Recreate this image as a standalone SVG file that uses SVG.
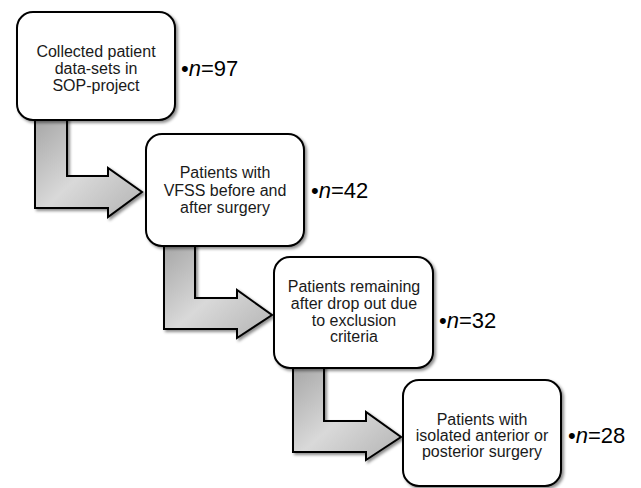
<svg xmlns="http://www.w3.org/2000/svg" width="641" height="488" viewBox="0 0 641 488">
<defs>
<linearGradient id="ag" x1="0" y1="0" x2="1" y2="1">
<stop offset="0" stop-color="#a6a6a6"/>
<stop offset="0.5" stop-color="#d9d9d9"/>
<stop offset="1" stop-color="#b3b3b3"/>
</linearGradient>
<filter id="sh" x="-10%" y="-10%" width="125%" height="125%">
<feDropShadow dx="2" dy="2" stdDeviation="1.8" flood-color="#000" flood-opacity="0.45"/>
</filter>
</defs>
<style>
.box{fill:#fff;stroke:#000;stroke-width:2;filter:url(#sh)}
.arr{fill:url(#ag);stroke:#000;stroke-width:2;stroke-linejoin:miter;filter:url(#sh)}
.t{font-family:"Liberation Sans",Arial,sans-serif;font-size:16px;fill:#1a1a1a;text-anchor:middle}
.n{font-family:"Liberation Sans",Arial,sans-serif;font-size:22px;fill:#000}
</style>
<rect width="641" height="488" fill="#fff"/>
<g id="connectors">
<path class="arr" d="M35,118 L67,118 L67,176 L108,176 L108,168 L142,192 L108,217 L108,208 L35,208 Z"/>
<path class="arr" d="M164,244 L195,244 L195,298 L237,298 L237,290 L272,315 L237,338 L237,329 L164,329 Z"/>
<path class="arr" d="M293,366 L324,366 L324,421 L366,421 L366,412 L401,437 L366,460 L366,452 L293,452 Z"/>
</g>
<g id="node1">
<rect class="box" x="17" y="12" width="158" height="108" rx="16"/>
<text class="t" x="96" y="57">Collected patient</text>
<text class="t" x="96" y="74">data-sets in</text>
<text class="t" x="96" y="91">SOP-project</text>
<text class="n" x="181" y="76">•<tspan font-style="italic">n</tspan>=97</text>
</g>
<g id="node2">
<rect class="box" x="146" y="134" width="158" height="112" rx="16"/>
<text class="t" x="225" y="178">Patients with</text>
<text class="t" x="225" y="196">VFSS before and</text>
<text class="t" x="225" y="213">after surgery</text>
<text class="n" x="311" y="198">•<tspan font-style="italic">n</tspan>=42</text>
</g>
<g id="node3">
<rect class="box" x="274" y="257" width="159" height="111" rx="16"/>
<text class="t" x="354" y="292">Patients remaining</text>
<text class="t" x="354" y="309">after drop out due</text>
<text class="t" x="354" y="326">to exclusion</text>
<text class="t" x="354" y="342">criteria</text>
<text class="n" x="439" y="328">•<tspan font-style="italic">n</tspan>=32</text>
</g>
<g id="node4">
<rect class="box" x="403" y="380" width="158" height="106" rx="16"/>
<text class="t" x="482" y="425">Patients with</text>
<text class="t" x="482" y="441">isolated anterior or</text>
<text class="t" x="482" y="457">posterior surgery</text>
<text class="n" x="568" y="443">•<tspan font-style="italic">n</tspan>=28</text>
</g>
</svg>
